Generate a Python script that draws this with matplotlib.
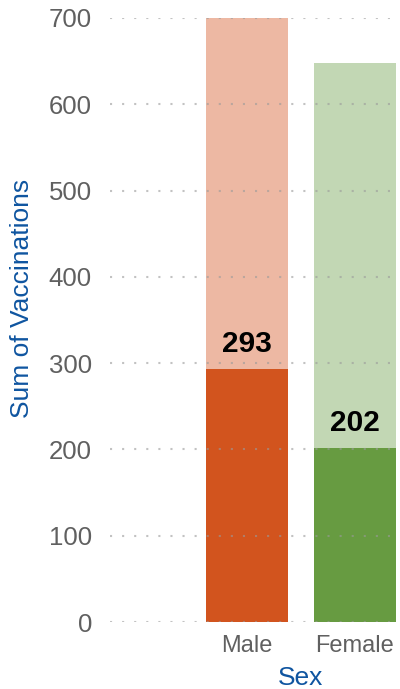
import numpy as np
import matplotlib.pyplot as plt

# DATA

sexes = ['Male', 'Female']
totals = [700, 648]
vaccinated = [293, 202]
dark_colors = ['#D2541E', '#679B41']
light_colors = ['#EDB8A3', '#C2D7B4']

plt.rcParams['font.family'] = ['Liberation Sans', 'DejaVu Sans']

# FIGURE

fig = plt.figure(figsize=(4, 6.89), dpi=100)
ax = fig.add_axes([0.275, 0.0972, 0.725, 0.8767])

x = np.arange(len(sexes))

# background bars (total) and foreground bars (value)
ax.bar(x, totals, width=0.76, color=light_colors, zorder=1)
ax.bar(x, vaccinated, width=0.76, color=dark_colors, zorder=2)

# value labels above the dark bars
for xi, v in zip(x, vaccinated):
    ax.annotate(str(v), (xi, v), xytext=(0, 8), textcoords='offset points',
                ha='center', va='bottom', fontsize=21.5, fontweight='bold',
                color='black', zorder=4)

# dotted grid drawn on top of the bars
ax.set_axisbelow(False)
ax.yaxis.grid(True, linestyle=(0, (1, 4.8)), linewidth=1.5,
              color='#9a9a9a', alpha=0.6, zorder=3)

xmin, xmax = -1.269, 1.417
ax.set_xlim(xmin, xmax)
ax.set_ylim(0, 700)
ax.set_yticks(range(0, 701, 100))
ax.set_xticks(x)
ax.set_xticklabels(sexes)

ax.tick_params(axis='both', length=0, colors='#606060')
ax.tick_params(axis='y', labelsize=18.5, pad=13)
ax.tick_params(axis='x', labelsize=17, pad=9)

for s in ax.spines.values():
    s.set_visible(False)

ax.set_xlabel('Sex', fontsize=19, color='#0F55A0')
ax.xaxis.set_label_coords((0.5 - xmin) / (xmax - xmin), -0.073)
ax.set_ylabel('Sum of Vaccinations', fontsize=19, color='#0F55A0')
ax.yaxis.set_label_coords(-0.263, 0.536)

fig.savefig('out.png', dpi=100)
